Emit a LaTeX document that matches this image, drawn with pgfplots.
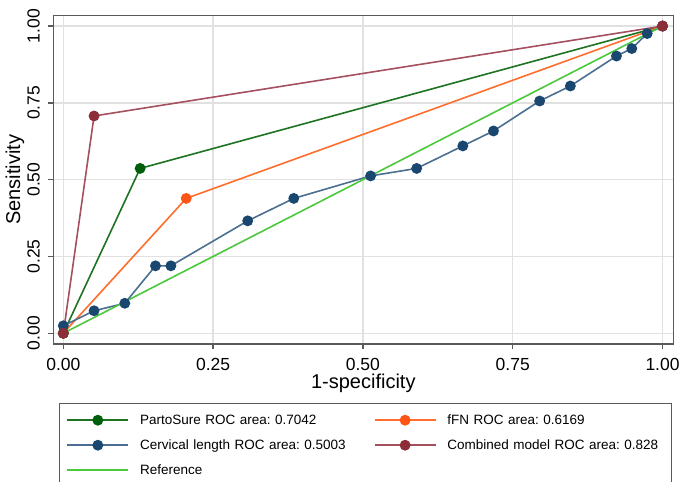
\documentclass[border=0pt]{standalone}
\usepackage{fontspec}
\setmainfont{Liberation Sans}
\usepackage{pgfplots}
\pgfplotsset{compat=1.18}

\definecolor{framegray}{RGB}{90,90,90}
\definecolor{gridgray}{RGB}{225,225,225}
\definecolor{partoline}{RGB}{30,115,35}
\definecolor{partomark}{RGB}{0,95,10}
\definecolor{ffnline}{RGB}{255,110,45}
\definecolor{ffnmark}{RGB}{255,85,20}
\definecolor{cervline}{RGB}{75,110,145}
\definecolor{cervmark}{RGB}{26,71,111}
\definecolor{combline}{RGB}{165,80,95}
\definecolor{combmark}{RGB}{140,45,55}
\definecolor{refline}{RGB}{75,200,60}

\begin{document}
\frenchspacing
\begin{tikzpicture}
\begin{axis}[
  scale only axis,
  width=310pt, height=164.35pt,
  xmin=-0.0167, xmax=1.018,
  ymin=-0.035, ymax=1.035,
  xtick={0,0.25,0.5,0.75,1},
  ytick={0,0.25,0.5,0.75,1},
  xticklabels={0.00,0.25,0.50,0.75,1.00},
  yticklabels={0.00,0.25,0.50,0.75,1.00},
  tick pos=left,
  tick align=outside,
  major tick length=2.5pt,
  grid=major,
  major grid style={draw=gridgray, line width=0.7pt},
  axis line style={draw=framegray, line width=0.75pt},
  tick style={draw=framegray, line width=0.75pt},
  ticklabel style={font=\fontsize{8.75}{10}\selectfont},
  yticklabel style={rotate=90, anchor=south, inner sep=0pt, yshift=4pt},
  xticklabel style={inner sep=0pt, yshift=-4.5pt},
  xlabel={1-specificity},
  ylabel={Sensitivity},
  label style={font=\fontsize{8.75}{10}\selectfont},
  every axis x label/.style={at={(axis description cs:0.5,-0.1200)}, anchor=center},
  every axis y label/.style={at={(axis description cs:-0.0618,0.5)}, anchor=center, rotate=90},
  legend columns=2,
  legend cell align=left,
  legend image code/.code={
    \draw[mark repeat=2, mark phase=2, #1] plot coordinates {(0pt,0pt) (15.25pt,0pt) (30.5pt,0pt)};
  },
  legend style={
    at={(rel axis cs:0.0092,-0.1786)}, anchor=north west,
    draw=framegray, line width=0.5pt,
    font=\fontsize{6.75}{8}\selectfont\frenchspacing,
    inner xsep=3.5pt, inner ysep=5pt,
    row sep=5.5pt,
    nodes={inner xsep=0pt, inner ysep=0pt, text width=108.5pt, text height=5.5pt, text depth=1.5pt, align=left},
    /tikz/every odd column/.append style={column sep=5.5pt},
    /tikz/every even column/.append style={column sep=8.35pt},
  },
]
% PartoSure
\addplot[color=partoline, line width=0.8pt, mark=*, mark size=2.3pt,
  mark options={solid, fill=partomark, draw=partomark}]
  coordinates {(0,0) (0.1282,0.5366) (1,1)};
\addlegendentry{PartoSure ROC area: 0.7042}
% fFN
\addplot[color=ffnline, line width=0.8pt, mark=*, mark size=2.3pt,
  mark options={solid, fill=ffnmark, draw=ffnmark}]
  coordinates {(0,0) (0.2051,0.4390) (1,1)};
\addlegendentry{fFN ROC area: 0.6169}
% cervical length
\addplot[color=cervline, line width=0.8pt, mark=*, mark size=2.3pt,
  mark options={solid, fill=cervmark, draw=cervmark}]
  coordinates {
  (0,0) (0,0.0244) (0.0513,0.0732) (0.1026,0.0976) (0.1538,0.2195)
  (0.1795,0.2195) (0.3077,0.3659) (0.3846,0.4390) (0.5128,0.5122)
  (0.5897,0.5366) (0.6667,0.6098) (0.7179,0.6585) (0.7949,0.7561)
  (0.8462,0.8049) (0.9231,0.9024) (0.9487,0.9268) (0.9744,0.9756) (1,1)
  };
\addlegendentry{Cervical length ROC area: 0.5003}
% combined
\addplot[color=combline, line width=0.8pt, mark=*, mark size=2.3pt,
  mark options={solid, fill=combmark, draw=combmark}]
  coordinates {(0,0) (0.0513,0.7073) (1,1)};
\addlegendentry{Combined model ROC area: 0.828}
% reference
\addplot[color=refline, line width=0.8pt, mark=none]
  coordinates {(0,0) (1,1)};
\addlegendentry{Reference}

\coordinate (bbsw) at (rel axis cs:-0.086,-0.4198);
\coordinate (bbne) at (rel axis cs:1.0124,1.0466);
\end{axis}
\pgfresetboundingbox
\path[use as bounding box] (bbsw) rectangle (bbne);
\end{tikzpicture}
\end{document}
